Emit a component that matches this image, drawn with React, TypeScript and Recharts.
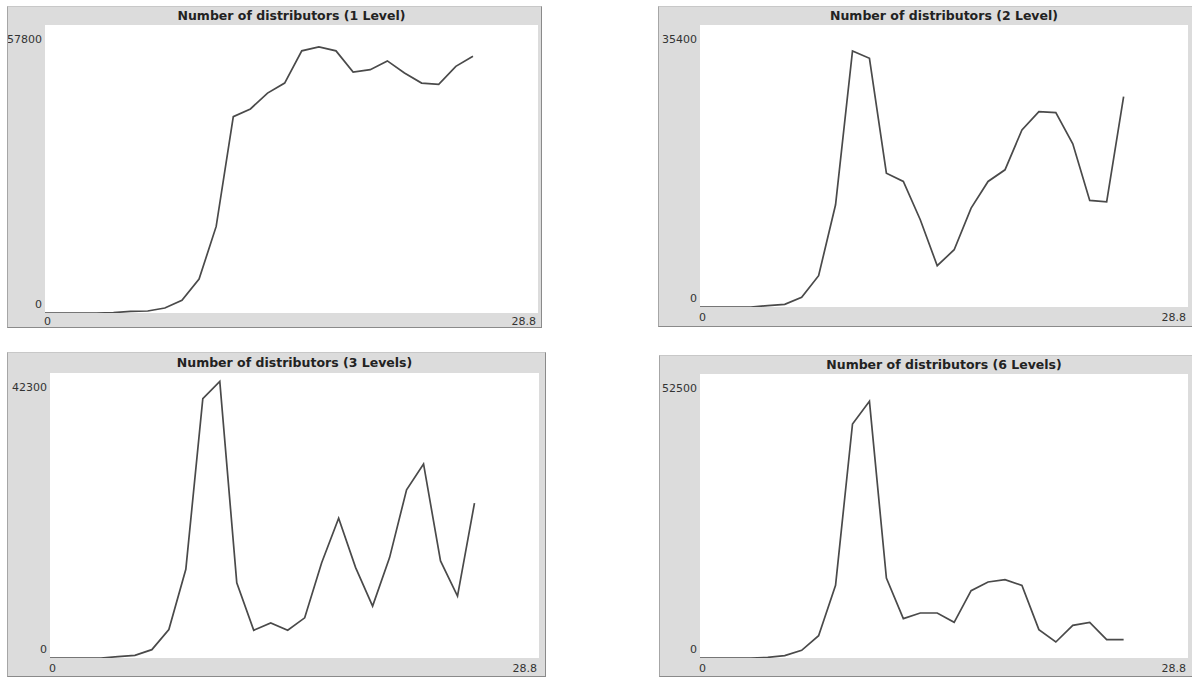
import React from "react";
import { LineChart, Line, XAxis, YAxis, CartesianGrid } from "recharts";

// time steps (x values)
const steps = [0, 1, 2, 3, 4, 5, 6, 7, 8, 9, 10, 11, 12, 13, 14, 15, 16, 17, 18, 19, 20, 21, 22, 23, 24, 25];

const level1 = [0, 0, 0, 0, 70, 340, 400, 1000, 2560, 6800, 17380, 39400, 40960, 44130, 46150, 52610, 53420, 52610, 48370, 48840, 50590, 48170, 46150, 45880, 49510, 51530];
const level2 = [0, 0, 0, 0, 170, 330, 1210, 3930, 12830, 32140, 31220, 16800, 15760, 10950, 5180, 7190, 12410, 15760, 17220, 22230, 24530, 24410, 20480, 13380, 13210, 26410];
const level3 = [0, 0, 0, 0, 200, 400, 1240, 4220, 13160, 38480, 41060, 11170, 4120, 5210, 4120, 5960, 14150, 20750, 13410, 7700, 14900, 24970, 28800, 14400, 9190, 22990];
const level6 = [0, 0, 0, 0, 120, 430, 1420, 4130, 13430, 43260, 47450, 14790, 7270, 8320, 8320, 6590, 12450, 14050, 14480, 13430, 5240, 2960, 6040, 6590, 3390, 3390];

const titles = [
  "Number of distributors (1 Level)",
  "Number of distributors (2 Level)",
  "Number of distributors (3 Levels)",
  "Number of distributors (6 Levels)",
];
const yMaxes = [57800, 35400, 42300, 52500];
const xMax = 28.8;
const xTicks = [0, 28.8];

const FONT = "'DejaVu Sans', Verdana, sans-serif";
const TEXT = "#333";

type Box = { left: number; top: number; width: number; height: number; ml: number; mt: number; mr: number; mb: number; xOff: number };

const boxes: Box[] = [
  { left: 7, top: 6, width: 535, height: 322, ml: 38, mt: 19, mr: 4, mb: 15, xOff: 12 },
  { left: 658, top: 6, width: 536, height: 321, ml: 42, mt: 19, mr: 6, mb: 20, xOff: 14 },
  { left: 7, top: 352, width: 539, height: 325, ml: 43, mt: 21, mr: 7, mb: 19, xOff: 14 },
  { left: 659, top: 355, width: 535, height: 322, ml: 41, mt: 19, mr: 6, mb: 19, xOff: 14 },
];

const XTick = (props: any) => {
  const { x, y, payload, off } = props;
  const isStart = payload.value === 0;
  return (
    <text
      x={isStart ? x - 1 : x - 2}
      y={y + off}
      textAnchor={isStart ? "start" : "end"}
      fontFamily={FONT}
      fontSize={11}
      fill={TEXT}
    >
      {String(payload.value)}
    </text>
  );
};

const YTick = (props: any) => {
  const { x, y, payload } = props;
  const isZero = payload.value === 0;
  return (
    <text
      x={x - 3}
      y={isZero ? y - 5 : y + 18}
      textAnchor="end"
      fontFamily={FONT}
      fontSize={11}
      fill={TEXT}
    >
      {String(payload.value)}
    </text>
  );
};

function Panel({ box, title, values, yMax }: { box: Box; title: string; values: number[]; yMax: number }) {
  const data = steps.map((s, i) => ({ x: s, v: values[i] }));
  const innerW = box.width - 2;
  const innerH = box.height - 2;
  return (
    <div
      style={{
        position: "absolute",
        left: box.left,
        top: box.top,
        width: innerW,
        height: innerH,
        background: "#dcdcdc",
        borderLeft: "1px solid #a6a6a6",
        borderTop: "1px solid #c8c8c8",
        borderRight: "1px solid #8a8a8a",
        borderBottom: "1px solid #8a8a8a",
      }}
    >
      <div
        style={{
          position: "absolute",
          left: box.ml - 1,
          top: 0,
          width: innerW - box.ml - box.mr + 2,
          height: box.mt - 1,
          lineHeight: `${box.mt - 1}px`,
          textAlign: "center",
          fontFamily: FONT,
          fontWeight: "bold",
          fontSize: 12.5,
          color: "#222",
          whiteSpace: "nowrap",
        }}
      >
        {title}
      </div>
      <LineChart
        width={innerW}
        height={innerH}
        data={data}
        style={{ overflow: "visible" }}
        margin={{ top: box.mt - 1, right: box.mr - 1, bottom: 0, left: 0 }}
      >
        <CartesianGrid fill="#ffffff" fillOpacity={1} horizontal={false} vertical={false} stroke="none" />
        <XAxis
          dataKey="x"
          type="number"
          domain={[0, xMax]}
          ticks={xTicks}
          interval={0}
          axisLine={false}
          tickLine={false}
          tickSize={0}
          tickMargin={0}
          height={box.mb - 1}
          tick={<XTick off={box.xOff} />}
          allowDataOverflow
        />
        <YAxis
          type="number"
          domain={[0, yMax]}
          ticks={[0, yMax]}
          interval={0}
          axisLine={false}
          tickLine={false}
          tickSize={0}
          tickMargin={0}
          width={box.ml - 1}
          tick={<YTick />}
          allowDataOverflow
        />
        <Line
          type="linear"
          dataKey="v"
          stroke="#4a4a4a"
          strokeWidth={1.7}
          dot={false}
          activeDot={false}
          isAnimationActive={false}
        />
      </LineChart>
    </div>
  );
}

export default function App() {
  const series = [level1, level2, level3, level6];
  return (
    <div style={{ position: "absolute", left: 0, top: 0, width: 1192, height: 679, background: "#ffffff", overflow: "hidden" }}>
      {boxes.map((b, i) => (
        <Panel key={i} box={b} title={titles[i]} values={series[i]} yMax={yMaxes[i]} />
      ))}
    </div>
  );
}
